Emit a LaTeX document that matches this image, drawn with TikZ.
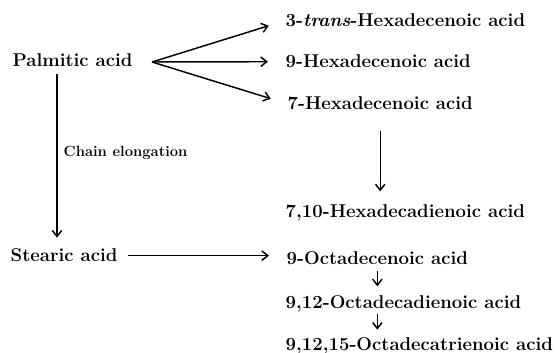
\documentclass[tikz,border=0pt]{standalone}
\usepackage{fontspec}
\usetikzlibrary{arrows.meta,positioning}
\begin{document}
\begin{tikzpicture}[x=0.75pt, y=-0.75pt, line width=1.1pt, >={Straight Barb[length=4.5pt,width=7pt]},
                    acid node/.style={inner sep=0pt, anchor=base west, font=\fontsize{13.9}{16}\selectfont\bfseries},
                    label node/.style={inner sep=0pt, anchor=base west, font=\fontsize{11.1}{13}\selectfont\bfseries}]
  \useasboundingbox (0,0) rectangle (558,353);

  \node[acid node] (1) at (12,67) {Palmitic acid};
  \node[acid node] (2) at (285,27) {3-\textit{trans}-Hexadecenoic acid};
  \node[acid node] (3) at (285,68) {9-Hexadecenoic acid};
  \node[acid node] (4) at (287,110) {7-Hexadecenoic acid};
  \node[acid node] (5) at (285,218) {7,10-Hexadecadienoic acid};
  \node[acid node] (6) at (10,262) {Stearic acid};
  \node[acid node] (7) at (286,265) {9-Octadecenoic acid};
  \node[acid node] (8) at (285,308) {9,12-Octadecadienoic acid};
  \node[acid node] (9) at (285,350) {9,12,15-Octadecatrienoic acid};
  \node[label node] (10) at (63,157) {Chain elongation};

  \coordinate (s) at (152,62);

  \path[->, shorten >=12.75pt]
    (s) edge (2.west)
        edge (3.west)
        edge (4.west);

  % chain elongation
  \draw[->, shorten <=4.5pt, shorten >=8pt]
    ([xshift=33.75pt]1.south west) -- ([xshift=33.75pt]1.south west |- 6.north);

  \draw[->] ([xshift=88.5pt]6.west) -- ([xshift=-12.75pt]6.west -| 7.west);
  \draw[->, shorten <=15pt, shorten >=9.75pt] (4.south) -- (4.south |- 5.north);
  \draw[->, shorten <=3.75pt, shorten >=6pt] (7.south) -- (7.south |- 8.north);
  \draw[->, shorten <=1pt, shorten >=5pt] (7.south |- 8.south) -- (7.south |- 9.north);
\end{tikzpicture}
\end{document}
